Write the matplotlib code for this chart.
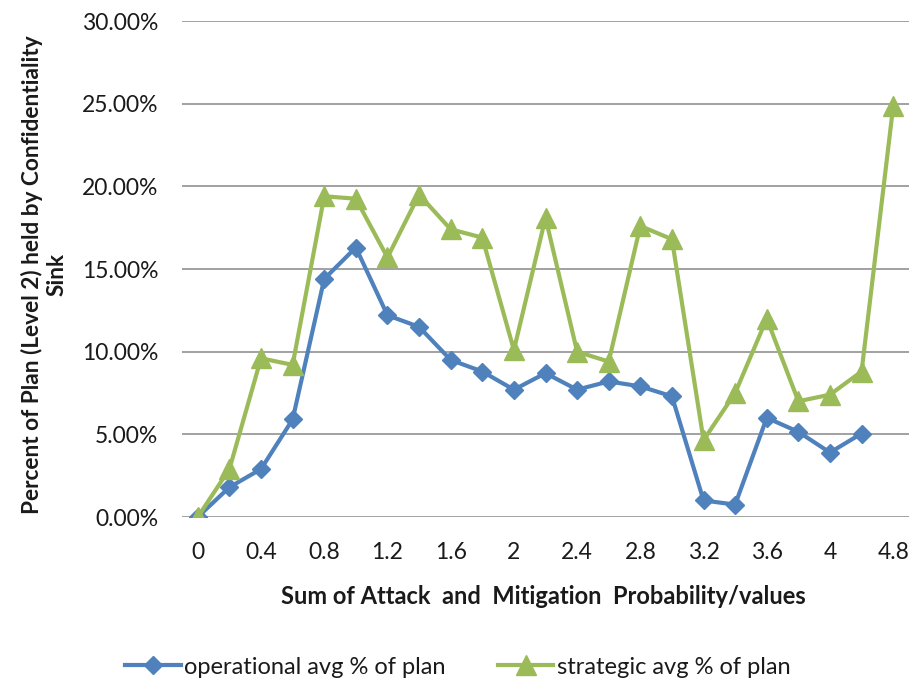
import matplotlib
matplotlib.use("Agg")
import matplotlib.pyplot as plt
from matplotlib.ticker import FuncFormatter

plt.rcParams["font.family"] = ["Lato", "DejaVu Sans"]

# category labels along x (only every other one is shown on the axis)
categories = ["0", "0.2", "0.4", "0.6", "0.8", "1", "1.2", "1.4", "1.6", "1.8",
              "2", "2.2", "2.4", "2.6", "2.8", "3", "3.2", "3.4", "3.6", "3.8",
              "4", "4.4", "4.8"]

# percent of plan
operational = [0.0, 1.8, 2.9, 5.9, 14.4, 16.3, 12.2, 11.5, 9.5, 8.8,
               7.7, 8.7, 7.7, 8.2, 7.9, 7.3, 1.0, 0.75, 6.0, 5.15,
               3.9, 5.05]
strategic = [0.0, 2.9, 9.6, 9.2, 19.4, 19.25, 15.7, 19.5, 17.4, 16.9,
             10.1, 18.1, 10.0, 9.4, 17.6, 16.8, 4.65, 7.5, 12.0, 7.0,
             7.4, 8.8, 24.85]

BLUE = "#4F81BD"
GREEN = "#9BBB59"
TXT = "#1a1a1a"

fig = plt.figure(figsize=(9.12, 6.86), dpi=100)
ax = fig.add_axes([182 / 912, 1 - 517 / 686, (909 - 182) / 912, (517 - 21) / 686])

x_op = list(range(len(operational)))
x_st = list(range(len(strategic)))
ax.plot(x_op, operational, color=BLUE, lw=3, marker="D", ms=9.5,
        label="operational avg % of plan", zorder=3)
ax.plot(x_st, strategic, color=GREEN, lw=3, marker="^", ms=15,
        label="strategic avg % of plan", zorder=4)

ax.set_xlim(-0.5, len(categories) - 0.5)
ax.set_ylim(0, 30)
ax.set_yticks(range(0, 31, 5))
ax.yaxis.set_major_formatter(FuncFormatter(lambda v, p: f"{v:.2f}%"))
ax.set_xticks(range(0, len(categories), 2))
ax.set_xticklabels(categories[::2])
ax.tick_params(axis="both", length=0, labelsize=16.5, colors=TXT)
ax.tick_params(axis="y", pad=17)
ax.tick_params(axis="x", pad=18)

ax.grid(axis="y", color="#9a9a9a", lw=1.3)
ax.set_axisbelow(True)
for s in ax.spines.values():
    s.set_visible(False)

fig.text(543 / 912, 1 - 596 / 686, "Sum of Attack  and  Mitigation  Probability/values",
         ha="center", va="center", fontsize=17, fontweight="bold", color=TXT)
fig.text(44 / 912, 1 - 275 / 686,
         "Percent of Plan (Level 2) held by Confidentiality\nSink",
         ha="center", va="center", rotation=90, fontsize=16.3, fontweight="bold",
         linespacing=1.2, color=TXT)

fig.legend(loc="center", bbox_to_anchor=(458 / 912, 1 - 667 / 686), ncol=2,
           frameon=False, fontsize=17, handlelength=2.35, columnspacing=2.2,
           handletextpad=0.15, labelcolor=TXT)

fig.savefig("out.png", dpi=100)
